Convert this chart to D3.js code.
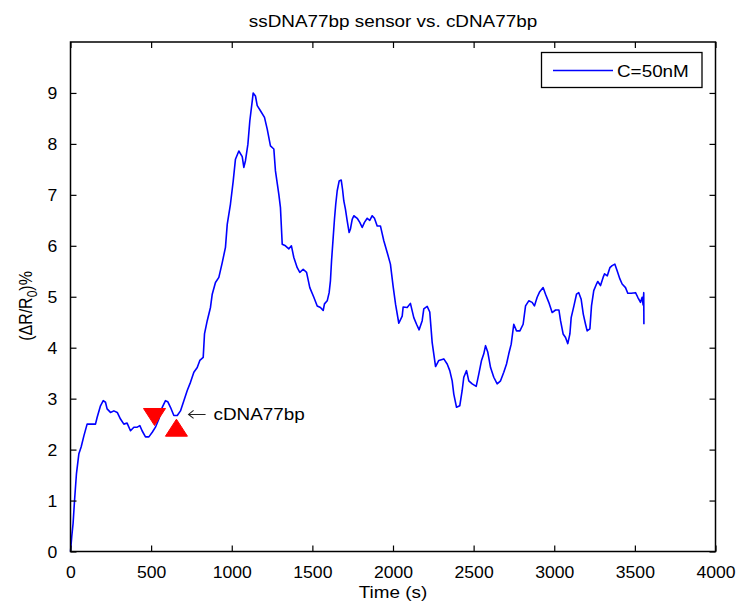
<!DOCTYPE html>
<html><head><meta charset="utf-8">
<script src="https://cdn.jsdelivr.net/npm/d3@7"></script>
<style>body{margin:0;background:#fff}svg{display:block}text{font-family:"Liberation Sans",Arial,Helvetica,sans-serif;fill:#000}</style>
</head><body>
<script>
const timeS = [0,8,16,25,37,52,66,83,103,124,155,165,186,203,217,227,248,269,290,310,331,351,372,393,414,430,444,465,486,507,527,548,569,589,603,620,641,662,682,703,724,744,765,786,802,823,831,848,868,879,899,920,941,961,972,992,1009,1023,1044,1065,1075,1085,1100,1112,1127,1133,1147,1158,1178,1203,1220,1240,1261,1271,1292,1302,1313,1333,1354,1370,1385,1406,1422,1443,1464,1484,1509,1530,1550,1567,1575,1592,1604,1612,1619,1629,1637,1645,1654,1666,1679,1687,1695,1705,1716,1728,1736,1747,1757,1778,1794,1809,1823,1840,1856,1871,1885,1902,1922,1943,1964,1984,2001,2016,2036,2057,2063,2088,2108,2129,2146,2162,2181,2191,2212,2228,2243,2264,2284,2315,2336,2352,2367,2377,2394,2414,2429,2439,2456,2470,2491,2516,2532,2549,2563,2574,2588,2605,2625,2646,2667,2687,2704,2718,2733,2749,2766,2787,2807,2822,2842,2863,2877,2894,2910,2931,2946,2966,2987,3008,3029,3039,3055,3070,3084,3097,3105,3122,3138,3152,3167,3180,3194,3204,3221,3231,3245,3262,3270,3287,3303,3312,3329,3345,3359,3376,3390,3407,3421,3442,3456,3477,3504,3518,3535,3545,3551,3555,3556];
const deltaR = [0,0.3,0.55,1.0,1.53,1.92,2.05,2.27,2.5,2.5,2.5,2.63,2.86,2.96,2.93,2.8,2.73,2.76,2.73,2.6,2.5,2.52,2.37,2.44,2.44,2.47,2.37,2.25,2.25,2.34,2.44,2.6,2.83,2.96,2.94,2.83,2.67,2.67,2.76,2.96,3.16,3.32,3.52,3.61,3.75,3.81,4.27,4.53,4.79,5.05,5.28,5.38,5.67,5.97,6.42,6.82,7.27,7.7,7.86,7.75,7.54,7.67,7.99,8.45,8.84,9.0,8.94,8.75,8.65,8.52,8.29,7.96,7.9,7.47,7.01,6.75,6.03,6.0,5.94,6.0,5.77,5.57,5.48,5.54,5.48,5.18,4.99,4.82,4.79,4.73,4.86,4.92,5.08,5.31,5.71,6.16,6.52,6.82,7.08,7.27,7.29,7.11,6.88,6.72,6.49,6.26,6.33,6.52,6.59,6.54,6.46,6.36,6.46,6.54,6.5,6.59,6.54,6.39,6.39,6.1,5.87,5.64,5.2,4.85,4.48,4.62,4.8,4.79,4.87,4.59,4.46,4.35,4.53,4.76,4.81,4.7,4.1,3.63,3.75,3.78,3.68,3.55,3.35,3.09,2.83,2.86,3.16,3.42,3.55,3.35,3.29,3.24,3.48,3.75,3.88,4.04,3.91,3.61,3.42,3.29,3.35,3.52,3.68,3.88,4.07,4.46,4.33,4.33,4.46,4.82,4.92,4.89,4.82,4.99,5.1,5.18,5.05,4.89,4.69,4.74,4.74,4.53,4.27,4.2,4.08,4.27,4.59,4.82,5.05,5.08,4.95,4.66,4.46,4.33,4.37,4.82,5.12,5.25,5.3,5.22,5.38,5.45,5.41,5.57,5.61,5.64,5.51,5.35,5.25,5.18,5.07,5.07,5.08,4.99,4.89,4.99,4.84,5.08,4.46];
const markerTimes = [521, 657];
const markerValues = [2.64, 2.43];
const markerKinds = ["down", "up"];
const xTicks = [0,500,1000,1500,2000,2500,3000,3500,4000];
const yTicks = [0,1,2,3,4,5,6,7,8,9];
const seriesName = "C=50nM";
const titleText = "ssDNA77bp sensor vs. cDNA77bp";
const xLabel = "Time (s)";
const annotationText = "cDNA77bp";
const annotationPos = [726, 2.69];

const W = 738, H = 603;
const L = 70.5, R = 715.5, T = 42, B = 551.5;
const svg = d3.select("body").append("svg").attr("width", W).attr("height", H);
const x = d3.scaleLinear().domain([0, 4000]).range([L, R]);
const y = d3.scaleLinear().domain([0, 10]).range([B, T]);
const SX = 1.18;

function stext(g, tx, ty, str, size, anchor, sx) {
  return g.append("text").attr("transform", `translate(${tx},${ty}) scale(${sx},1)`)
    .attr("text-anchor", anchor).attr("font-size", size).text(str);
}

// data line
const data = timeS.map((t, i) => [t, deltaR[i]]);
svg.append("path").datum(data)
  .attr("fill", "none").attr("stroke", "#0000ff").attr("stroke-width", 1.6)
  .attr("stroke-linejoin", "round")
  .attr("d", d3.line().x(d => x(d[0])).y(d => y(d[1])));

// axes
const ax = svg.append("g").attr("transform", `translate(0,${B})`)
  .call(d3.axisBottom(x).tickValues(xTicks).tickSizeInner(-6).tickSizeOuter(0).tickPadding(15).tickFormat(d3.format("d")));
const axT = svg.append("g").attr("transform", `translate(0,${T})`)
  .call(d3.axisTop(x).tickValues(xTicks).tickSizeInner(-6).tickSizeOuter(0).tickFormat(""));
const ay = svg.append("g").attr("transform", `translate(${L},0)`)
  .call(d3.axisLeft(y).tickValues(yTicks).tickSizeInner(-6).tickSizeOuter(0).tickPadding(12).tickFormat(d3.format("d")));
const ayR = svg.append("g").attr("transform", `translate(${R},0)`)
  .call(d3.axisRight(y).tickValues(yTicks).tickSizeInner(-6).tickSizeOuter(0).tickFormat(""));
[ax, axT, ay, ayR].forEach(g => {
  g.select(".domain").remove();
  g.selectAll(".tick line").attr("stroke", "#000").attr("stroke-width", 1.2);
  g.selectAll("text").attr("font-size", 16).attr("font-family", "Liberation Sans, Arial, sans-serif").attr("fill", "#000");
});
ax.selectAll(".tick text").attr("transform", "scale(1.1,1)");
ay.selectAll(".tick text").attr("transform", "scale(1.1,1)").attr("dy", "0.36em");
svg.append("rect").attr("x", L).attr("y", T).attr("width", R - L).attr("height", B - T)
  .attr("fill", "none").attr("stroke", "#000").attr("stroke-width", 1.5);

// markers
const ms = 11;
markerTimes.forEach((t, i) => {
  const cx = x(t), cy = y(markerValues[i]);
  const h = 8.5;
  const p = markerKinds[i] === "down"
    ? `M${cx - ms},${cy - h}L${cx + ms},${cy - h}L${cx},${cy + h}Z`
    : `M${cx - ms},${cy + h}L${cx + ms},${cy + h}L${cx},${cy - h}Z`;
  svg.append("path").attr("d", p).attr("fill", "#ff0000").attr("stroke", "#ff0000").attr("stroke-width", 1);
});

// annotation
const axp = x(annotationPos[0]), ayp = y(annotationPos[1]);
svg.append("path").attr("d", `M${axp + 1},${ayp}L${axp + 18},${ayp}M${axp + 6},${ayp - 4}L${axp + 1},${ayp}L${axp + 6},${ayp + 4}`)
  .attr("fill", "none").attr("stroke", "#222").attr("stroke-width", 1.1);
stext(svg, axp + 26, ayp + 6, annotationText, 16, "start", SX);

// title and labels
stext(svg, (L + R) / 2, 27, titleText, 16, "middle", SX);
stext(svg, (L + R) / 2, 598, xLabel, 16, "middle", SX);
const yl = svg.append("text").attr("transform", `translate(32,306) rotate(-90) scale(1,${SX})`)
  .attr("text-anchor", "middle").attr("font-size", 16);
yl.append("tspan").text("(\u0394R/R");
yl.append("tspan").attr("font-size", 12).attr("dy", 4).text("0");
yl.append("tspan").attr("dy", -4).text(")%");

// legend
const lg = svg.append("g");
lg.append("rect").attr("x", 541.5).attr("y", 52.5).attr("width", 160.5).attr("height", 35)
  .attr("fill", "#fff").attr("stroke", "#000").attr("stroke-width", 1.3);
lg.append("line").attr("x1", 553).attr("x2", 613).attr("y1", 70.5).attr("y2", 70.5)
  .attr("stroke", "#0000ff").attr("stroke-width", 1.3);
stext(lg, 617, 76.5, seriesName, 16, "start", SX);
</script>
</body></html>
